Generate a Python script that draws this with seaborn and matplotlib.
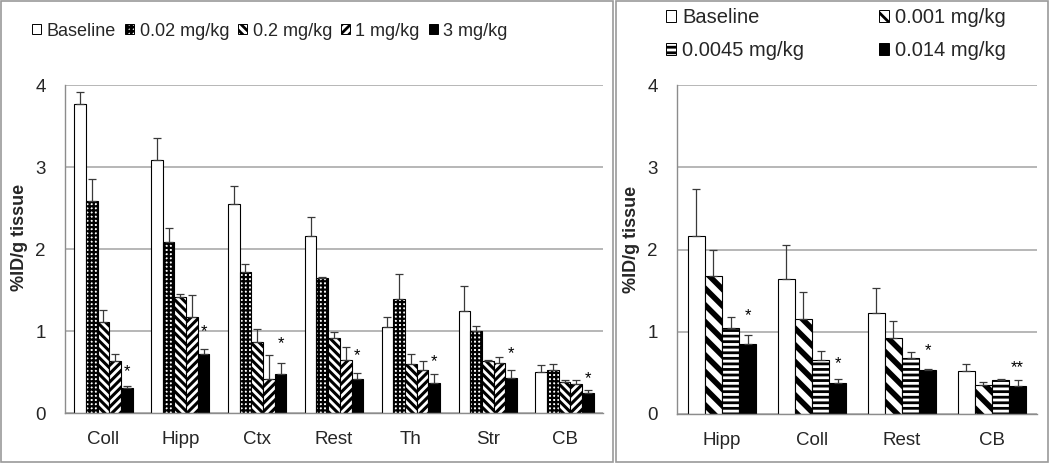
import numpy as np
import pandas as pd
import matplotlib
matplotlib.use("Agg")
import matplotlib.pyplot as plt
from matplotlib.patches import Patch, Rectangle
import seaborn as sns

# ---------------- data ----------------
left_regions = ["Coll", "Hipp", "Ctx", "Rest", "Th", "Str", "CB"]
left_doses = ["Baseline", "0.02 mg/kg", "0.2 mg/kg", "1 mg/kg", "3 mg/kg"]
left_baseline = [3.77, 3.09, 2.55, 2.16, 1.05, 1.25, 0.50]
left_d002 = [2.58, 2.09, 1.72, 1.65, 1.39, 1.00, 0.52]
left_d02 = [1.11, 1.41, 0.87, 0.91, 0.60, 0.63, 0.38]
left_d1 = [0.64, 1.17, 0.42, 0.65, 0.52, 0.61, 0.35]
left_d3 = [0.31, 0.72, 0.48, 0.42, 0.36, 0.43, 0.25]
left_err_baseline = [0.15, 0.26, 0.22, 0.23, 0.12, 0.30, 0.08]
left_err_d002 = [0.27, 0.17, 0.10, 0.01, 0.31, 0.06, 0.08]
left_err_d02 = [0.15, 0.04, 0.16, 0.08, 0.12, 0.02, 0.02]
left_err_d1 = [0.08, 0.27, 0.29, 0.16, 0.11, 0.07, 0.05]
left_err_d3 = [0.02, 0.06, 0.13, 0.07, 0.11, 0.10, 0.03]
left_star_y = [0.50, 0.99, 0.84, 0.70, 0.63, 0.72, 0.42]
left_star_txt = ["*", "*", "*", "*", "*", "*", "*"]

right_regions = ["Hipp", "Coll", "Rest", "CB"]
right_doses = ["Baseline", "0.001 mg/kg", "0.0045 mg/kg", "0.014 mg/kg"]
right_baseline = [2.16, 1.64, 1.23, 0.52]
right_d0001 = [1.68, 1.16, 0.93, 0.35]
right_d00045 = [1.04, 0.66, 0.68, 0.41]
right_d0014 = [0.85, 0.38, 0.54, 0.34]
right_err_baseline = [0.57, 0.41, 0.30, 0.09]
right_err_d0001 = [0.32, 0.32, 0.20, 0.04]
right_err_d00045 = [0.14, 0.11, 0.07, 0.02]
right_err_d0014 = [0.11, 0.04, 0.01, 0.07]
right_star_y = [1.19, 0.61, 0.77, 0.56]
right_star_txt = ["*", "*", "*", "**"]

yticks = [0, 1, 2, 3, 4]
ylabel = "%ID/g tissue"

# ---------------- style ----------------
sns.set_style("white")
plt.rcParams["font.family"] = ["Liberation Sans", "DejaVu Sans"]
plt.rcParams["hatch.linewidth"] = 2.0

FS = 13.5
GRAY = "#8c8c8c"

left_styles = [
    dict(fc="white", hatch=None, hlw=1.0),
    dict(fc="white", hatch="++++", hlw=1.6),
    dict(fc="white", hatch="\\\\\\\\", hlw=2.2),
    dict(fc="white", hatch="////", hlw=2.2),
    dict(fc="black", hatch=None, hlw=1.0),
]
right_styles = [
    dict(fc="white", hatch=None, hlw=1.0),
    dict(fc="white", hatch="\\\\", hlw=4.0),
    dict(fc="white", hatch="---", hlw=2.0),
    dict(fc="black", hatch=None, hlw=1.0),
]


def long_df(regions, doses, series):
    rows = []
    for dose, vals in zip(doses, series):
        for r, v in zip(regions, vals):
            rows.append(dict(region=r, dose=dose, value=v))
    return pd.DataFrame(rows)


def draw_panel(ax, regions, doses, series, errs, styles, star_y, star_txt):
    df = long_df(regions, doses, series)
    sns.barplot(data=df, x="region", y="value", hue="dose", order=regions,
                hue_order=doses, errorbar=None, width=0.76, gap=0,
                palette=["white"] * len(doses), legend=False, ax=ax,
                linewidth=0.8, edgecolor="black", saturation=1)
    bar_conts = list(ax.containers)
    for cont, st, err in zip(bar_conts, styles, errs):
        xs, tops = [], []
        for p in cont.patches:
            p.set_facecolor(st["fc"])
            p.set_edgecolor("black")
            p.set_linewidth(0.8)
            if st["hatch"]:
                p.set_hatch(st["hatch"])
                if hasattr(p, "set_hatch_linewidth"):
                    p.set_hatch_linewidth(st["hlw"])
            xs.append(p.get_x() + p.get_width() / 2)
            tops.append(p.get_height())
        ax.errorbar(xs, tops, yerr=[np.zeros(len(err)), err], fmt="none",
                    ecolor="#3a3a3a", elinewidth=0.9, capsize=2.6,
                    capthick=0.9, zorder=1.5)
    last = bar_conts[-1]
    for p, sy, st in zip(last.patches, star_y, star_txt):
        ax.text(p.get_x() + p.get_width() / 2, sy, st, ha="center",
                va="center", fontsize=12, color="black")

    ax.set_ylim(0, 4)
    ax.set_yticks(yticks)
    ax.set_yticklabels([str(t) for t in yticks], fontsize=FS)
    n = len(regions)
    ax.set_xlim(-0.5, n - 0.5)
    ax.set_xticks(range(n))
    ax.set_xticklabels(regions, fontsize=FS)
    ax.set_xticks(np.arange(-0.5, n, 1.0), minor=True)
    ax.tick_params(axis="x", which="major", length=0, pad=13)
    ax.tick_params(axis="x", which="minor", length=5, width=0.9,
                   color=GRAY, direction="out")
    ax.tick_params(axis="y", length=5, width=0.9, color=GRAY,
                   direction="out", pad=9)
    ax.yaxis.grid(True, color="#a3a3a3", linewidth=1.1)
    ax.xaxis.grid(False)
    ax.set_axisbelow(True)
    for s in ["top", "right"]:
        ax.spines[s].set_visible(False)
    for s in ["left", "bottom"]:
        ax.spines[s].set_color(GRAY)
        ax.spines[s].set_linewidth(1.0)
    ax.set_xlabel("")
    ax.set_ylabel(ylabel, fontsize=FS - 0.5, fontweight="bold")


W, H = 1050, 463
fig = plt.figure(figsize=(W / 100, H / 100), dpi=100)
fig.patch.set_facecolor("white")

axL = fig.add_axes([65 / W, (H - 413) / H, 538 / W, 328 / H])
axR = fig.add_axes([677 / W, (H - 414) / H, 360 / W, 329 / H])

draw_panel(axL, left_regions, left_doses,
           [left_baseline, left_d002, left_d02, left_d1, left_d3],
           [left_err_baseline, left_err_d002, left_err_d02, left_err_d1, left_err_d3],
           left_styles, left_star_y, left_star_txt)
draw_panel(axR, right_regions, right_doses,
           [right_baseline, right_d0001, right_d00045, right_d0014],
           [right_err_baseline, right_err_d0001, right_err_d00045, right_err_d0014],
           right_styles, right_star_y, right_star_txt)

axL.yaxis.set_label_coords(-0.068, 0.534)
axR.yaxis.set_label_coords(-0.104, 0.53)


def handle(st):
    h = Patch(facecolor=st["fc"], edgecolor="black", linewidth=0.7,
              hatch=st["hatch"])
    return h


hL = [handle(s) for s in left_styles]
fig.legend(hL, left_doses, ncol=5, loc="center", bbox_to_anchor=(270 / W, 1 - 31 / H),
           frameon=False, fontsize=13, handlelength=0.5, handleheight=0.5,
           handletextpad=0.3, columnspacing=0.5, borderaxespad=0)

order = [0, 2, 1, 3]
hR = [handle(right_styles[i]) for i in order]
lR = [right_doses[i] for i in order]
fig.legend(hR, lR, ncol=2, loc="center", bbox_to_anchor=(836 / W, 1 - 34 / H),
           frameon=False, fontsize=14.5, handlelength=0.5, handleheight=0.5,
           handletextpad=0.3, columnspacing=3.7, labelspacing=0.7,
           borderaxespad=0)

# panel borders
fig.add_artist(Rectangle((1 / W, 1 / H), 612 / W, 461 / H, transform=fig.transFigure,
                         fill=False, edgecolor="#9a9a9a", linewidth=1.2))
fig.add_artist(Rectangle((616 / W, 1 / H), 432 / W, 461 / H, transform=fig.transFigure,
                         fill=False, edgecolor="#9a9a9a", linewidth=1.2))

fig.savefig("out.png", dpi=100, facecolor="white")
